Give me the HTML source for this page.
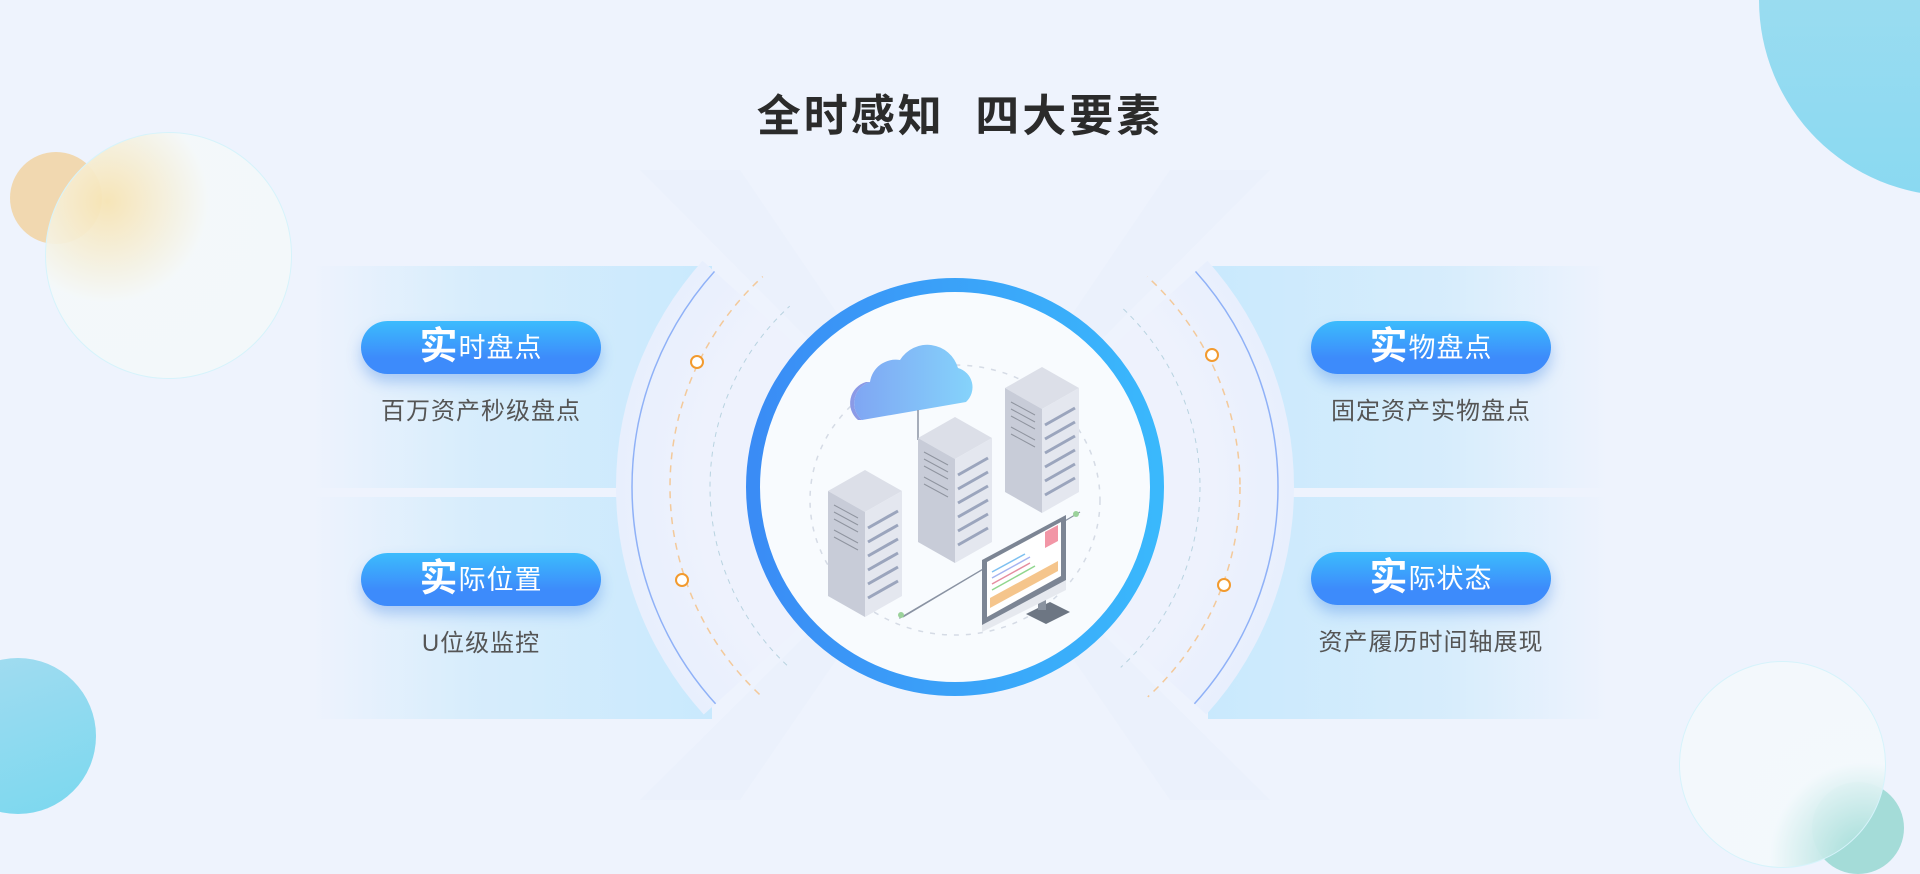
<!DOCTYPE html>
<html><head><meta charset="utf-8">
<style>
*{margin:0;padding:0;box-sizing:border-box}
body{width:1920px;height:828px;overflow:hidden;background:#eef3fd;font-family:"Liberation Sans","Noto Sans CJK SC",sans-serif;position:relative}
.abs{position:absolute}
.title{left:0;width:1920px;top:80px;text-align:center;font-size:44px;font-weight:bold;color:#2b2b2b;letter-spacing:3px}
.band{position:absolute;height:222px}
.bl{left:312px;width:400px;background:linear-gradient(90deg,rgba(205,234,252,0) 0%,rgba(205,234,252,.7) 40%,#c9e9fd 100%)}
.br{left:1208px;width:400px;background:linear-gradient(270deg,rgba(205,234,252,0) 0%,rgba(205,234,252,.7) 40%,#c9e9fd 100%)}
.pill{position:absolute;width:240px;height:53px;border-radius:27px;background:linear-gradient(180deg,#3cbcfd 0%,#3d8bfb 70%);box-shadow:0 8px 14px rgba(60,130,230,.35);color:#fff;text-align:center;font-size:27px;line-height:53px;letter-spacing:1px}
.pill b{font-size:38px;font-weight:bold;vertical-align:-2px}
.sub{position:absolute;width:300px;text-align:center;font-size:24px;color:#555;letter-spacing:1px}
</style></head><body>

<div class="abs" style="left:10px;top:152px;width:92px;height:92px;border-radius:50%;background:#f1d8b0"></div>
<div class="abs" style="left:45px;top:132px;width:247px;height:247px;border-radius:50%;background:radial-gradient(circle at 25% 28%,rgba(247,228,180,.95) 0%,rgba(244,249,250,.9) 40%,#f3f8fa 100%);border:1.5px solid #d6f3fb"></div>
<div class="abs" style="left:1759px;top:-196px;width:392px;height:392px;border-radius:50%;background:linear-gradient(180deg,#a9dff0,#8ad9f1)"></div>
<div class="abs" style="left:-60px;top:658px;width:156px;height:156px;border-radius:50%;background:linear-gradient(160deg,#a4dcf0,#7ad8ef)"></div>
<div class="abs" style="left:1812px;top:782px;width:92px;height:92px;border-radius:50%;background:#a4dcd8"></div>
<div class="abs" style="left:1679px;top:661px;width:207px;height:207px;border-radius:50%;background:radial-gradient(circle at 90% 95%,rgba(160,220,215,.95) 0%,rgba(243,249,252,.95) 35%,#f3f8fc 100%);border:1.5px solid #d6f3fb"></div>

<div class="band bl" style="top:266px"></div>
<div class="band bl" style="top:497px"></div>
<div class="band br" style="top:266px"></div>
<div class="band br" style="top:497px"></div>

<svg class="abs" style="left:0;top:0" width="1920" height="828" viewBox="0 0 1920 828">
<defs>
<linearGradient id="ring" x1="0" y1="0" x2="1" y2="0"><stop offset="0" stop-color="#3a8cf5"/><stop offset="1" stop-color="#3ab8fc"/></linearGradient>
<linearGradient id="cloud" x1="0" y1="0" x2="1" y2="0"><stop offset="0" stop-color="#7fa6f3"/><stop offset="1" stop-color="#85d3fb"/></linearGradient>
<radialGradient id="disc" cx="0.5" cy="0.5" r="0.5"><stop offset="0.75" stop-color="#eef2fd"/><stop offset="1" stop-color="#e8effd"/></radialGradient>
<clipPath id="side"><polygon points="955,487 300,-230 300,1200"/><polygon points="955,487 1610,-230 1610,1200"/></clipPath>
<clipPath id="side2"><polygon points="955,487 300,-100 300,1080"/><polygon points="955,487 1610,-100 1610,1080"/></clipPath>
</defs>
<polygon points="640,170 955,487 640,800 740,800 955,487 740,170" fill="#e9f0fc" opacity=".6"/>
<polygon points="1270,170 955,487 1270,800 1170,800 955,487 1170,170" fill="#e9f0fc" opacity=".6"/>
<g clip-path="url(#side2)">
<circle cx="955" cy="487" r="339" fill="url(#disc)"/>
<circle cx="955" cy="487" r="323" fill="none" stroke="#8fb1f7" stroke-width="1.5"/>
</g>
<g clip-path="url(#side)">
<circle cx="955" cy="487" r="285" fill="none" stroke="#f3c99a" stroke-width="1.5" stroke-dasharray="7 6"/>
<circle cx="955" cy="487" r="245" fill="none" stroke="#b8d3e0" stroke-width="1" stroke-dasharray="5 5"/>
</g>
<g fill="#fff" stroke="#f29a2e" stroke-width="2">
<circle cx="697" cy="362" r="6"/><circle cx="682" cy="580" r="6"/>
<circle cx="1212" cy="355" r="6"/><circle cx="1224" cy="585" r="6"/>
</g>
<circle cx="955" cy="487" r="202" fill="#f8fbfe" stroke="url(#ring)" stroke-width="14"/>
<ellipse cx="955" cy="500" rx="145" ry="135" fill="none" stroke="#d5dbe5" stroke-width="1.5" stroke-dasharray="5 7"/>
<polyline points="900,613 900,618 1080,512" fill="none" stroke="#8a93a3" stroke-width="1.2"/>
<line x1="903" y1="617" x2="990" y2="565" stroke="#8a93a3" stroke-width="1.2"/>
<circle cx="901" cy="615" r="3" fill="#9bd29b"/><circle cx="1076" cy="514" r="3" fill="#9bd29b"/>
<path d="M862,420 a22,22 0 0 1 8,-38 a26,26 0 0 1 30,-22 a32,32 0 0 1 58,8 a20,20 0 0 1 8,34 z" fill="url(#cloud)"/>
<path d="M858,420 a22,22 0 0 1 8,-38 l4,0 a22,22 0 0 0 -8,38 z" fill="#8b9ae6"/>
<line x1="918" y1="410" x2="918" y2="440" stroke="#8a93a3" stroke-width="1.5"/>
<g>
<polygon points="828,491 865,470 902,491 865,512" fill="#dcdfe8"/>
<polygon points="828,491 865,512 865,617 828,596" fill="#c8ccd8"/>
<polygon points="865,512 902,491 902,596 865,617" fill="#e4e7ef"/>
<g stroke="#7d8aa8" stroke-width="3" opacity=".7"><line x1="868" y1="528" x2="898" y2="511"/><line x1="868" y1="542" x2="898" y2="525"/><line x1="868" y1="556" x2="898" y2="539"/><line x1="868" y1="570" x2="898" y2="553"/><line x1="868" y1="584" x2="898" y2="567"/><line x1="868" y1="598" x2="898" y2="581"/></g>
<g stroke="#6a6f7a" stroke-width="1" opacity=".6"><line x1="834" y1="505" x2="858" y2="518"/><line x1="834" y1="512" x2="858" y2="525"/><line x1="834" y1="519" x2="858" y2="532"/><line x1="834" y1="530" x2="858" y2="543"/><line x1="834" y1="537" x2="858" y2="550"/></g>
<polygon points="918,438 955,417 992,438 955,459" fill="#dcdfe8"/>
<polygon points="918,438 955,459 955,563 918,542" fill="#c8ccd8"/>
<polygon points="955,459 992,438 992,542 955,563" fill="#e4e7ef"/>
<g stroke="#7d8aa8" stroke-width="3" opacity=".7"><line x1="958" y1="475" x2="988" y2="458"/><line x1="958" y1="489" x2="988" y2="472"/><line x1="958" y1="503" x2="988" y2="486"/><line x1="958" y1="517" x2="988" y2="500"/><line x1="958" y1="531" x2="988" y2="514"/><line x1="958" y1="545" x2="988" y2="528"/></g>
<g stroke="#6a6f7a" stroke-width="1" opacity=".6"><line x1="924" y1="452" x2="948" y2="465"/><line x1="924" y1="459" x2="948" y2="472"/><line x1="924" y1="466" x2="948" y2="479"/><line x1="924" y1="477" x2="948" y2="490"/><line x1="924" y1="484" x2="948" y2="497"/></g>
<polygon points="1005,388 1042,367 1079,388 1042,409" fill="#dcdfe8"/>
<polygon points="1005,388 1042,409 1042,513 1005,492" fill="#c8ccd8"/>
<polygon points="1042,409 1079,388 1079,492 1042,513" fill="#e4e7ef"/>
<g stroke="#7d8aa8" stroke-width="3" opacity=".7"><line x1="1045" y1="425" x2="1075" y2="408"/><line x1="1045" y1="439" x2="1075" y2="422"/><line x1="1045" y1="453" x2="1075" y2="436"/><line x1="1045" y1="467" x2="1075" y2="450"/><line x1="1045" y1="481" x2="1075" y2="464"/><line x1="1045" y1="495" x2="1075" y2="478"/></g>
<g stroke="#6a6f7a" stroke-width="1" opacity=".6"><line x1="1011" y1="402" x2="1035" y2="415"/><line x1="1011" y1="409" x2="1035" y2="422"/><line x1="1011" y1="416" x2="1035" y2="429"/><line x1="1011" y1="427" x2="1035" y2="440"/><line x1="1011" y1="434" x2="1035" y2="447"/></g>
<polygon points="1026,614 1050,602 1070,612 1046,624" fill="#6d7683"/>
<rect x="1038" y="594" width="8" height="16" fill="#8a93a0"/>
<polygon points="982,565 1066,520 1066,590 982,632" fill="#e6e9ef"/>
<polygon points="982,560 1066,515 1066,580 982,625" fill="#7c8594"/>
<polygon points="987,562 1061,522 1061,576 987,617" fill="#fff"/>
<polygon points="1045,532 1058,525 1058,541 1045,548" fill="#f296a6"/>
<polygon points="990,598 1058,561 1058,571 990,608" fill="#f5c58c"/>
<g stroke-width="1.5"><line x1="992" y1="578" x2="1030" y2="557" stroke="#a5b4f0"/><line x1="992" y1="584" x2="1030" y2="563" stroke="#e58da0"/><line x1="992" y1="590" x2="1035" y2="566" stroke="#90d68e"/><line x1="992" y1="572" x2="1025" y2="554" stroke="#7ec0f0"/></g>
</g>
</svg>

<div class="abs title">全时感知&nbsp;&nbsp;四大要素</div>

<div class="pill" style="left:361px;top:321px"><b>实</b>时盘点</div>
<div class="sub" style="left:331px;top:391px">百万资产秒级盘点</div>
<div class="pill" style="left:361px;top:553px"><b>实</b>际位置</div>
<div class="sub" style="left:331px;top:623px">U位级监控</div>
<div class="pill" style="left:1311px;top:321px"><b>实</b>物盘点</div>
<div class="sub" style="left:1281px;top:391px">固定资产实物盘点</div>
<div class="pill" style="left:1311px;top:552px"><b>实</b>际状态</div>
<div class="sub" style="left:1261px;top:622px;width:340px">资产履历时间轴展现</div>
</body></html>
